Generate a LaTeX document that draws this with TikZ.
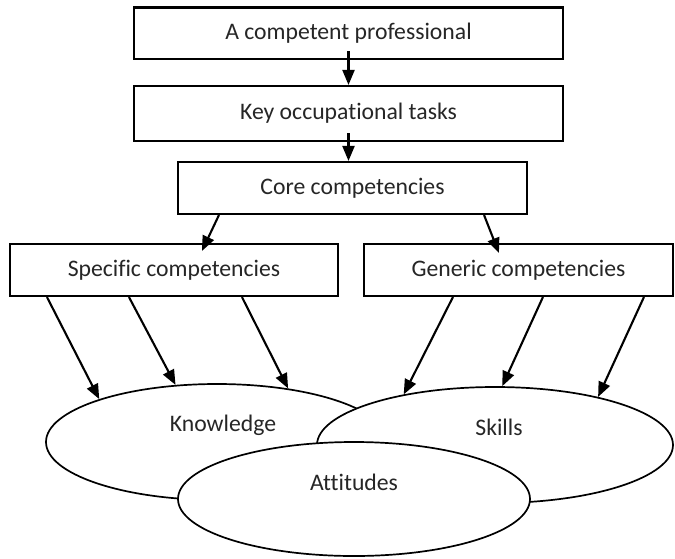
\documentclass[tikz,border=0pt]{standalone}
\usepackage{fontspec}
\setmainfont{Carlito}[Ligatures=NoCommon]
\usetikzlibrary{shapes.geometric,arrows.meta,calc}
\begin{document}
\begin{tikzpicture}[x=1pt,y=-1pt,
  every node/.style={font=\fontsize{23.7}{28}\selectfont, text=black!85},
  stagebox/.style={draw, line width=2.1pt, inner sep=0pt, fill=white},
  area/.style={draw, ellipse, line width=1.7pt, fill=white, inner sep=0pt},
  link/.style={line width=2.1pt, -{Triangle[length=15pt,width=12pt]}}]
\useasboundingbox (0,0) rectangle (675,558);

% hierarchy of boxes
\node[stagebox, minimum width=429pt, minimum height=51.5pt] (b1) at (348.5,33.25) {A competent professional};
\node[stagebox, minimum width=429pt, minimum height=55pt] (b2) at (348.5,113.5) {Key occupational tasks};
\node[stagebox, minimum width=349pt, minimum height=52pt] (b3) at (352.5,188) {Core competencies};
\node[stagebox, minimum width=328pt, minimum height=52pt] (spec) at (174,270) {Specific competencies};
\node[stagebox, minimum width=309pt, minimum height=52pt] (gen) at (518.5,270) {Generic competencies};

% overlapping outcome ellipses
\node[area, minimum width=342pt, minimum height=116pt,
  label={[name=know-t, xshift=6pt, yshift=17pt]center:Knowledge}] (know) at (217,442) {};
\node[area, minimum width=356pt, minimum height=116pt,
  label={[name=skill-t, xshift=4pt, yshift=18pt]center:Skills}] (skill) at (495,445) {};
\node[area, minimum width=352pt, minimum height=114pt,
  label={[name=att-t, yshift=17pt]center:Attitudes}] (att) at (354,499) {};

% connectors between the boxes
\draw[link] ([yshift=9pt]b1.south) -- (b2.north);
\draw[link] ([yshift=9pt]b2.south) -- (b2.south |- b3.north);
\draw[link] ([xshift=42pt]b3.south west) -- ([xshift=193pt,yshift=-8pt]spec.north west);
\draw[link] ([xshift=-44pt]b3.south east) -- ([xshift=136pt,yshift=-10pt]gen.north west);

% specific competencies feed knowledge
\draw[link] ([xshift=38pt]spec.south west) -- (know.160.7);
\draw[link] ([xshift=120pt]spec.south west) -- (know.126.4);
\draw[link] ([xshift=233pt]spec.south west) -- (know.37);

% generic competencies feed skills
\draw[link] ([xshift=90pt]gen.south west) -- (skill.151.7);
\draw[link] ([xshift=180pt]gen.south west) -- (skill.83.4);
\draw[link] ([xshift=281pt]gen.south west) -- (skill.25.5);
\end{tikzpicture}
\end{document}
